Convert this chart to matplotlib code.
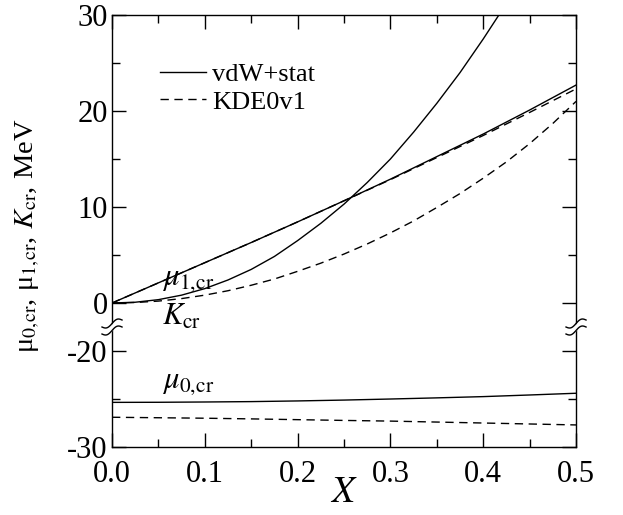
import numpy as np
import matplotlib
matplotlib.use("Agg")
from matplotlib import pyplot as plt

plt.rcParams['font.family'] = ['Liberation Serif', 'DejaVu Serif']
plt.rcParams['mathtext.fontset'] = 'stix'

# values
x = [0.0, 0.05, 0.1, 0.15, 0.2, 0.25, 0.3, 0.35, 0.4, 0.45, 0.5]
mu1_vdw = [0.0, 2.1, 4.2, 6.3, 8.45, 10.65, 12.9, 15.25, 17.6, 20.1, 22.7]
mu1_kde = [0.0, 2.1, 4.2, 6.3, 8.45, 10.65, 12.85, 15.15, 17.45, 19.85, 22.3]
mu0_vdw = [-25.35, -25.34, -25.31, -25.27, -25.2, -25.11, -25.0, -24.88, -24.75, -24.58, -24.4]
mu0_kde = [-26.9, -26.95, -27.0, -27.07, -27.15, -27.23, -27.3, -27.4, -27.5, -27.6, -27.7]
xk = [0.0, 0.025, 0.05, 0.075, 0.1, 0.125, 0.15, 0.175, 0.2, 0.225,
      0.25, 0.275, 0.3, 0.325, 0.35, 0.375, 0.4, 0.425, 0.45, 0.475, 0.5]
k_vdw = [0.0, 0.08, 0.35, 0.82, 1.5, 2.4, 3.5, 4.85, 6.5, 8.3,
         10.3, 12.55, 15.0, 17.8, 20.8, 24.0, 27.5, 31.2, None, None, None]
k_kde = [0.0, 0.05, 0.2, 0.46, 0.82, 1.28, 1.85, 2.5, 3.3, 4.15,
         5.1, 6.15, 7.3, 8.55, 9.95, 11.4, 13.0, 14.7, 16.6, 18.7, 21.0]

yticks = [-30, -20, 0, 10, 20, 30]
yminor = [-25, 5, 15, 25]


# broken axis: -30..-15 is squeezed onto -15..0
def fwd(y):
    y = np.asarray(y, dtype=float)
    return np.where(y >= 0, y, y + 15)


def inv(d):
    d = np.asarray(d, dtype=float)
    return np.where(d >= 0, d, d - 15)


fig = plt.figure(figsize=(6.23, 5.15), dpi=100)
ax = fig.add_axes([0.1798, 0.132, 0.7448, 0.8389])
ax.set_yscale('function', functions=(fwd, inv))

kw = dict(color='black', lw=1.0)
dsh = dict(ls='--', dashes=(6, 4))
kv = [v if v is not None else np.nan for v in k_vdw]
ax.plot(x, mu1_vdw, '-', label='vdW+stat', **kw)
ax.plot(x, mu1_kde, label='KDE0v1', **dsh, **kw)
ax.plot(xk, kv, '-', **kw)
ax.plot(xk, k_kde, **dsh, **kw)
ax.plot(x, mu0_vdw, '-', **kw)
ax.plot(x, mu0_kde, **dsh, **kw)

ax.set_xlim(0, 0.5)
ax.set_ylim(-30, 30)
ax.set_xticks([0, 0.1, 0.2, 0.3, 0.4, 0.5])
ax.set_xticklabels(['0.0', '0.1', '0.2', '0.3', '0.4', '0.5'])
ax.set_xticks([0.05, 0.15, 0.25, 0.35, 0.45], minor=True)
ax.set_yticks(yticks)
ax.set_yticklabels([str(v) for v in yticks])
ax.set_yticks(yminor, minor=True)
ax.set_yticklabels([], minor=True)
ax.tick_params(which='both', direction='in', top=True, right=True, width=1.0,
               labelsize=22)
ax.tick_params(axis='x', which='major', pad=9)
ax.tick_params(axis='y', which='major', pad=3)
ax.tick_params(which='major', length=10)
ax.tick_params(which='minor', length=6)
for s in ax.spines.values():
    s.set_linewidth(1.0)

ax.set_xlabel('$X$', fontsize=27)
ax.xaxis.set_label_coords(0.5, -0.065)
ax.set_ylabel(r'μ$_{0,\!\mathrm{cr}}$, μ$_{1,\!\mathrm{cr}}$, $K_\mathrm{cr}$, MeV',
              fontsize=20.5)
ax.yaxis.set_label_coords(-0.15, 0.49)

ax.text(0.054, 2.5, r'$\mu_{1,\!\mathrm{cr}}$', fontsize=22, va='center')
ax.text(0.054, -16.5, r'$K_\mathrm{cr}$', fontsize=22, va='center')
ax.text(0.054, -23.3, r'$\mu_{0,\!\mathrm{cr}}$', fontsize=22, va='center')

ax.legend(loc='upper left', bbox_to_anchor=(0.08, 0.914), frameon=False,
          fontsize=19, handlelength=1.75, handletextpad=0.25,
          labelspacing=0.15, borderaxespad=0)

# break marks on both vertical spines
w_px, h_px = 464.0, 432.0
yc = (-2.5 + 15) / 45.0
t = np.linspace(-10, 10, 60)
wave = 0.35 * t + 2.5 * np.sin(np.pi * t / 10)
for x0 in (0.0, 1.0):
    xs = x0 + t / w_px
    lo = yc + (wave - 3.5) / h_px
    hi = yc + (wave + 3.5) / h_px
    ax.fill_between(xs, lo, hi, color='white', transform=ax.transAxes,
                    clip_on=False, zorder=5, lw=0)
    ax.plot(xs, lo, color='black', lw=1.0, transform=ax.transAxes,
            clip_on=False, zorder=6)
    ax.plot(xs, hi, color='black', lw=1.0, transform=ax.transAxes,
            clip_on=False, zorder=6)

fig.savefig('out.png', dpi=100)
